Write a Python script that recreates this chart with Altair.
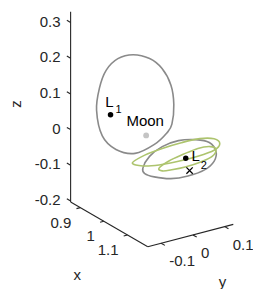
import altair as alt
import pandas as pd

FONT = "Liberation Sans"
AX_COLOR = "#262626"

# ---- axes box limits (x, y, z) ----
x_lim = [0.859, 1.186]
y_lim = [-0.142, 0.127]
z_lim = [-0.203, 0.33]

x_ticks = [0.9, 1.0, 1.1]
x_tick_labels = ["0.9", "1", "1.1"]
y_ticks = [-0.1, 0.0, 0.1]
y_tick_labels = ["-0.1", "0", "0.1"]
z_ticks = [-0.2, -0.1, 0.0, 0.1, 0.2, 0.3]
z_tick_labels = ["-0.2", "-0.1", "0", "0.1", "0.2", "0.3"]

# ---- special points ----
L1_xyz = [0.8369, 0.0, 0.0]
L2_xyz = [1.1557, 0.0, 0.0]
moon_xyz = [0.9878, 0.0, 0.0]
cross_xyz = [1.1557, 0.012, -0.037]

# ---- orbits ----
l1_orbit_x = 0.837
l1_orbit_y = [0.071, 0.123, 0.162, 0.190, 0.199, 0.193, 0.177, 0.138, 0.077,
              0.017, -0.026, -0.044, -0.035, -0.014, 0.023]
l1_orbit_z = [0.152, 0.129, 0.092, 0.039, -0.017, -0.071, -0.092, -0.115,
              -0.126, -0.101, -0.053, 0.023, 0.083, 0.128, 0.152]

l2_orbit_x = 1.1557
l2_orbit_y = [-0.135, -0.114, -0.074, -0.023, 0.032, 0.074, 0.095, 0.089,
              0.059, 0.007, -0.047, -0.099, -0.129]
l2_orbit_z = [0.004, 0.032, 0.050, 0.055, 0.045, 0.027, -0.003, -0.029,
              -0.046, -0.051, -0.046, -0.029, -0.013]

quasi_a_x = 1.1557
quasi_a_y = [-0.168, -0.129, -0.074, -0.014, 0.044, 0.089, 0.107, 0.089,
             0.038, -0.023, -0.084, -0.135]
quasi_a_z = [0.026, 0.039, 0.045, 0.047, 0.045, 0.034, 0.016, 0.002,
             -0.003, -0.003, 0.001, 0.010]

quasi_b_x = 1.1557
quasi_b_y = [-0.084, -0.053, -0.008, 0.038, 0.077, 0.095, 0.083, 0.047,
             -0.002, -0.044, -0.074]
quasi_b_z = [-0.008, 0.005, 0.013, 0.019, 0.015, 0.003, -0.014, -0.021,
             -0.024, -0.022, -0.018]


# ---- view projection (3D -> screen) ----
def project(x, y, z):
    a = x - x_lim[0]
    b = y - y_lim[0]
    c = z - z_lim[0]
    u = 73 + 245 * a + 330 * b
    v = 207 + 140 * a - 85 * b - 366 * c
    return u, v


# orbits table
orbit_rows = []
for name, ox, oys, ozs in [
    ("L1 orbit", l1_orbit_x, l1_orbit_y, l1_orbit_z),
    ("L2 orbit", l2_orbit_x, l2_orbit_y, l2_orbit_z),
    ("quasi A", quasi_a_x, quasi_a_y, quasi_a_z),
    ("quasi B", quasi_b_x, quasi_b_y, quasi_b_z),
]:
    for i, (yy, zz) in enumerate(zip(oys, ozs)):
        u, v = project(ox, yy, zz)
        orbit_rows.append({"orbit": name, "i": i, "u": u, "v": v})
orbits = pd.DataFrame(orbit_rows)

# axis lines and ticks
seg_rows = []


def seg(p, q):
    u, v = project(*p)
    u2, v2 = project(*q)
    seg_rows.append({"u": u, "v": v, "u2": u2, "v2": v2})


seg((x_lim[0], y_lim[0], z_lim[0]), (x_lim[1], y_lim[0], z_lim[0]))
seg((x_lim[1], y_lim[0], z_lim[0]), (x_lim[1], y_lim[1], z_lim[0]))
seg((x_lim[0], y_lim[0], z_lim[0]), (x_lim[0], y_lim[0], z_lim[1]))
for t in x_ticks:
    seg((t, y_lim[0], z_lim[0]), (t, y_lim[0] - 0.012, z_lim[0]))
for t in y_ticks:
    seg((x_lim[1], t, z_lim[0]), (x_lim[1] + 0.016, t, z_lim[0]))
for t in z_ticks:
    seg((x_lim[0], y_lim[0], t), (x_lim[0] - 0.016, y_lim[0], t))
segments = pd.DataFrame(seg_rows)


def tick_df(vals, labels, fn):
    rows = []
    for t, lab in zip(vals, labels):
        u, v = project(*fn(t))
        rows.append({"u": u, "v": v, "label": lab})
    return pd.DataFrame(rows)


x_lab = tick_df(x_ticks, x_tick_labels, lambda t: (t, y_lim[0], z_lim[0]))
y_lab = tick_df(y_ticks, y_tick_labels, lambda t: (x_lim[1], t, z_lim[0]))
z_lab = tick_df(z_ticks, z_tick_labels, lambda t: (x_lim[0], y_lim[0], t))


def pt_df(xyz, label=""):
    u, v = project(*xyz)
    return pd.DataFrame([{"u": u, "v": v, "label": label}])


X = alt.X("u:Q", scale=alt.Scale(domain=[8, 253], nice=False, zero=False), axis=None)
Y = alt.Y("v:Q", scale=alt.Scale(domain=[8, 289], nice=False, zero=False, reverse=True), axis=None)

axes_layer = alt.Chart(segments).mark_rule(color=AX_COLOR, strokeWidth=1.1).encode(
    x=X, y=Y, x2="u2:Q", y2="v2:Q")

orbit_layer = alt.Chart(orbits).mark_line(interpolate="cardinal-closed", strokeWidth=1.6).encode(
    x=X, y=Y, order="i:Q", detail="orbit:N",
    color=alt.Color("orbit:N", legend=None,
                    scale=alt.Scale(domain=["L1 orbit", "L2 orbit", "quasi A", "quasi B"],
                                    range=["#8a8a8a", "#8a8a8a", "#adc46e", "#adc46e"])))

txt = dict(font=FONT, fontSize=15, color=AX_COLOR)

z_text = alt.Chart(z_lab).mark_text(align="right", baseline="middle", dx=-10, dy=-1, **txt).encode(
    x=X, y=Y, text="label:N")
x_text = alt.Chart(x_lab).mark_text(align="right", baseline="middle", dx=-9, dy=15, **txt).encode(
    x=X, y=Y, text="label:N")
y_text = alt.Chart(y_lab).mark_text(align="left", baseline="middle", dx=8, dy=18, **txt).encode(
    x=X, y=Y, text="label:N")

x_mid = pt_df(((x_lim[0] + x_lim[1]) / 2, y_lim[0], z_lim[0]), "x")
y_mid = pt_df((x_lim[1], (y_lim[0] + y_lim[1]) / 2, z_lim[0]), "y")
z_mid = pt_df((x_lim[0], y_lim[0], (z_lim[0] + z_lim[1]) / 2), "z")
x_title = alt.Chart(x_mid).mark_text(baseline="middle", dx=-32, dy=51, **txt).encode(x=X, y=Y, text="label:N")
y_title = alt.Chart(y_mid).mark_text(baseline="middle", dx=32, dy=46, **txt).encode(x=X, y=Y, text="label:N")
# rotated text: dx runs upward on screen, dy runs to the right
z_title = alt.Chart(z_mid).mark_text(baseline="middle", dx=3, dy=-55, angle=270, **txt).encode(x=X, y=Y, text="label:N")

l1_pt = pt_df(L1_xyz, "L")
l2_pt = pt_df(L2_xyz, "L")
moon_pt = pt_df(moon_xyz, "Moon")
cross_pt = pt_df(cross_xyz)

dots = alt.Chart(pd.concat([l1_pt, l2_pt])).mark_circle(size=30, color="black", opacity=1).encode(x=X, y=Y)
moon_dot = alt.Chart(moon_pt).mark_circle(size=34, color="#c4c4c4", opacity=1).encode(x=X, y=Y)
cross = alt.Chart(cross_pt).mark_point(shape="M-1,-1L1,1M-1,1L1,-1", size=40, color="black",
                                       strokeWidth=1.3, filled=False, opacity=1).encode(x=X, y=Y)

lab = dict(font=FONT, color="black")
l1_L = alt.Chart(l1_pt).mark_text(fontSize=15, baseline="middle", dx=-1, dy=-13, **lab).encode(x=X, y=Y, text="label:N")
l1_sub = alt.Chart(l1_pt.assign(label="1")).mark_text(fontSize=11, baseline="middle", dx=8, dy=-5, **lab).encode(x=X, y=Y, text="label:N")
l2_L = alt.Chart(l2_pt).mark_text(fontSize=15, baseline="middle", dx=10, dy=-2, **lab).encode(x=X, y=Y, text="label:N")
l2_sub = alt.Chart(l2_pt.assign(label="2")).mark_text(fontSize=11, baseline="middle", dx=18, dy=8, **lab).encode(x=X, y=Y, text="label:N")
moon_t = alt.Chart(moon_pt).mark_text(fontSize=15, baseline="middle", dx=-1, dy=-14, **lab).encode(x=X, y=Y, text="label:N")

chart = alt.layer(
    axes_layer, orbit_layer, moon_dot, dots, cross,
    z_text, x_text, y_text, x_title, y_title, z_title,
    l1_L, l1_sub, l2_L, l2_sub, moon_t,
).properties(
    width=245, height=281, padding=0,
    autosize=alt.AutoSizeParams(type="fit", contains="padding"),
    background="white",
).configure_view(stroke=None)

chart.save("out.html", embed_options={"renderer": "svg", "actions": False})
